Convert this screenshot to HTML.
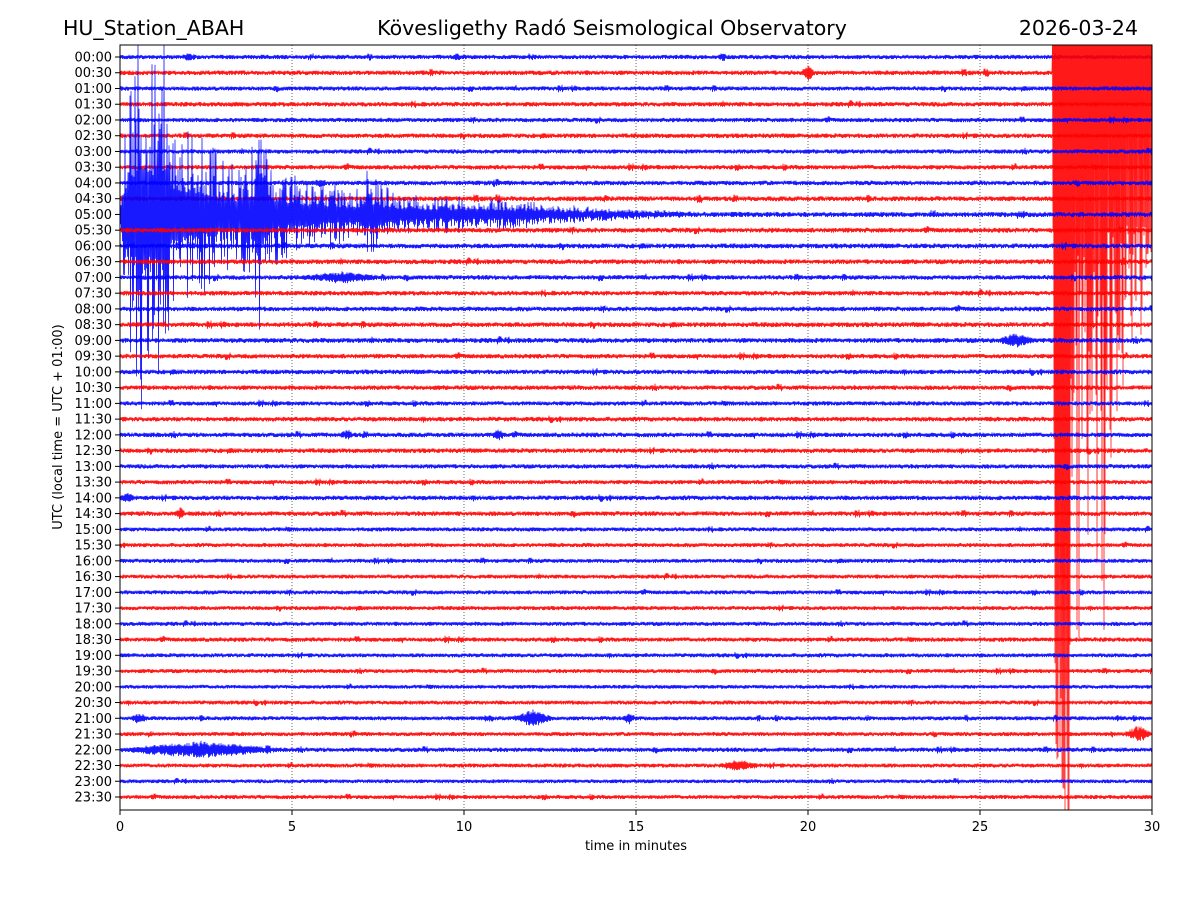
<!DOCTYPE html>
<html><head><meta charset="utf-8">
<style>
html,body{margin:0;padding:0;background:#fff;}
svg{display:block;font-family:"DejaVu Sans","Liberation Sans",sans-serif;}
</style></head>
<body>
<svg id="chart" width="1200" height="900" viewBox="0 0 1200 900">
<rect width="1200" height="900" fill="#fff"/>
<text x="63" y="35" font-size="20.5">HU_Station_ABAH</text>
<text x="612" y="35" font-size="20.5" text-anchor="middle">Kövesligethy Radó Seismological Observatory</text>
<text x="1138" y="35" font-size="20.5" text-anchor="end">2026-03-24</text>
<defs><clipPath id="plotclip"><rect x="120" y="45" width="1032" height="765"/></clipPath></defs>
<g id="grid"></g>
<g id="traces" clip-path="url(#plotclip)"></g>
<rect x="120" y="45" width="1032" height="765" fill="none" stroke="#000" stroke-width="1"/>
<g id="yaxis"></g>
<g id="xaxis"></g>
<text transform="translate(62,427) rotate(-90)" font-size="13" text-anchor="middle">UTC (local time = UTC + 01:00)</text>
<text x="636" y="850" font-size="13" text-anchor="middle">time in minutes</text>
</svg>
<script>
// ---- data ----
const xTicks = [0,5,10,15,20,25,30];
const rowLabels = [];
for (let h=0;h<24;h++){const hh=String(h).padStart(2,'0');rowLabels.push(hh+':00');rowLabels.push(hh+':30');}
const rowNoise = [1.6,1.7,1.6,1.7,1.6,1.7,1.6,1.7,1.7,1.8,1.9,1.8,1.8,1.8,1.7,1.7,1.7,1.8,1.8,1.7,1.7,1.7,1.6,1.7,1.7,1.7,1.6,1.6,1.7,1.7,1.5,1.5,1.5,1.5,1.5,1.5,1.5,1.6,1.5,1.5,1.4,1.5,1.5,1.5,1.6,1.5,1.4,1.5];
// local events: row index, start min, end min, amplitude px
const evRow = [1,14,18,24,24,28,29,42,42,42,43,44,45,0,8];
const evStart=[19.8,5.3,25.5,6.4,10.8,0,1.6,11.4,14.6,0.3,29.2,0,17.4,1.8,5.6];
const evEnd = [20.2,7.6,26.6,6.8,11.2,0.4,1.9,12.6,15.0,0.8,30,4.6,18.6,2.2,6.0];
const evAmp = [5,3,4,3,3,3,3,5,3,3,5,5,3,2,2];
// big local quake on 05:00 row: envelope (minutes -> px)
const quakeRow = 10;
const quakeT = [0,0.2,0.5,0.7,1.0,1.2,1.5,2.0,2.5,3.0,3.5,3.9,4.05,4.3,5.0,6.0,7.0,7.1,8.0,9.0,10.5,11.5,12.5,13.5,15,17];
const quakeA = [0,120,190,200,150,200,110,90,75,60,55,70,140,60,40,30,25,45,20,16,14,14,9,6,3,0];
// large teleseismic arrival on 00:30 row (px above / below baseline)
const bigRow = 1;
const bigT  = [27.1,27.2,27.6,27.7,28.2,28.6,29.0,29.5,30];
const bigUp = [0,400,400,400,400,400,400,400,400];
const bigDn = [0,760,760,660,640,560,420,300,260];
const bigCore=[0,205,205,200,195,185,180,170,170];

// ---- axes ----
const X0=120,X1=1152,Y0=57,DY=(797-57)/47;
const xs=m=>X0+(X1-X0)*m/30;
const ys=r=>Y0+DY*r;
const NS='http://www.w3.org/2000/svg';
function mk(tag,attrs,parent){const e=document.createElementNS(NS,tag);for(const k in attrs)e.setAttribute(k,attrs[k]);parent.appendChild(e);return e;}
const grid=document.getElementById('grid'),ya=document.getElementById('yaxis'),xa=document.getElementById('xaxis'),tr=document.getElementById('traces');
xTicks.forEach(t=>{
  if(t>0&&t<30){const l=mk('line',{x1:xs(t),x2:xs(t),y1:45,y2:810,stroke:'#000','stroke-width':0.6,'stroke-dasharray':'1,2'},grid);
    
    }
  const tk=mk('line',{x1:xs(t),x2:xs(t),y1:810,y2:815,stroke:'#000'},xa);
  
  
  const tx=mk('text',{x:xs(t),y:831,'font-size':13,'text-anchor':'middle'},xa);tx.textContent=t;
  
  
});
rowLabels.forEach((lab,i)=>{
  const tk=mk('line',{x1:115,x2:120,y1:ys(i),y2:ys(i),stroke:'#000'},ya);
  
  
  const tx=mk('text',{x:112,y:ys(i)+4.5,'font-size':13,'text-anchor':'end'},ya);tx.textContent=lab;
  
  
});
// ---- waveform texture ----
let seed=12345;
function rnd(){seed=(seed*1103515245+12345)&0x7fffffff;return seed/0x7fffffff;}
function interp(T,A,t){if(t<T[0])return 0;if(t>=T[T.length-1])return A[A.length-1];for(let i=1;i<T.length;i++)if(t<=T[i]){const f=(t-T[i-1])/(T[i]-T[i-1]);return A[i-1]+(A[i]-A[i-1])*f;}return 0;}
const SPP=2; // samples per px
rowLabels.forEach((lab,r)=>{
  const col=r%2===0?'#0000ff':'#ff0000';
  const y=ys(r);const pts=[];const N=(X1-X0)*SPP;
  let burst=0;
  for(let k=0;k<=N;k++){
    const m=30*k/N;
    let a=rowNoise[r]*(0.4+rnd());
    if(rnd()<0.003)burst=10; if(burst>0){a*=1.7;burst--;}
    for(let e=0;e<evRow.length;e++)if(evRow[e]===r&&m>=evStart[e]&&m<=evEnd[e]){const c=(evStart[e]+evEnd[e])/2,h=(evEnd[e]-evStart[e])/2;a+=evAmp[e]*(1-Math.abs(m-c)/h)*(0.5+rnd());}
    if(r===quakeRow){const q=interp(quakeT,quakeA,m);a+=q*(0.22+0.78*Math.pow(rnd(),2.2));}
    let v=(k%2?1:-1)*a;
    if(r===bigRow&&m>=bigT[0]){
      const up=interp(bigT,bigUp,m),dn=interp(bigT,bigDn,m),core=interp(bigT,bigCore,m);
      if(k%2){v=-up*(0.3+rnd());}
      else if(m<27.6){v=dn*(0.75+0.3*rnd());}
      else{v=core*(0.85+0.15*rnd())+(dn-core)*Math.pow(rnd(),1.8);}
    }
    pts.push((X0+k/SPP).toFixed(2)+','+(y+v).toFixed(1));
  }
  const pl=mk('polyline',{points:pts.join(' '),fill:'none',stroke:col,'stroke-width':0.8,'stroke-opacity':0.9},tr);
  
  
});
</script>
</body></html>
